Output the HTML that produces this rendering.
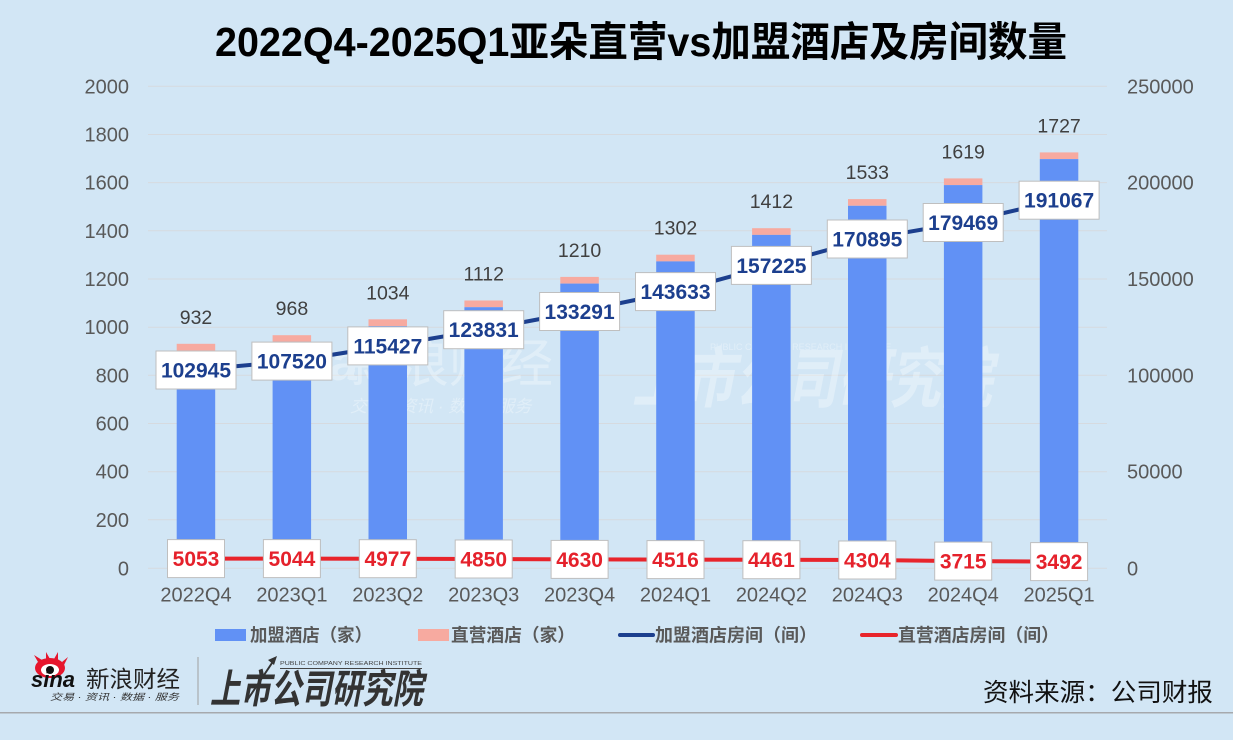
<!DOCTYPE html>
<html><head><meta charset="utf-8"><style>
html,body{margin:0;padding:0;background:#D2E6F5;}
svg{display:block;}
text{font-family:"Liberation Sans","Noto Sans CJK SC",sans-serif;}
</style></head><body>
<svg width="1233" height="740" viewBox="0 0 1233 740" xmlns="http://www.w3.org/2000/svg">
<rect x="0" y="0" width="1233" height="740" fill="#D2E6F5"/>
<!-- title -->
<text x="215" y="56" font-size="41" font-weight="bold" fill="#000" textLength="852" lengthAdjust="spacingAndGlyphs">2022Q4-2025Q1亚朵直营vs加盟酒店及房间数量</text>
<!-- grid -->
<g stroke="#D6DADF" stroke-width="1">
<line x1="148" x2="1107" y1="86.3" y2="86.3"/>
<line x1="148" x2="1107" y1="134.5" y2="134.5"/>
<line x1="148" x2="1107" y1="182.6" y2="182.6"/>
<line x1="148" x2="1107" y1="230.8" y2="230.8"/>
<line x1="148" x2="1107" y1="279.0" y2="279.0"/>
<line x1="148" x2="1107" y1="327.2" y2="327.2"/>
<line x1="148" x2="1107" y1="375.3" y2="375.3"/>
<line x1="148" x2="1107" y1="423.5" y2="423.5"/>
<line x1="148" x2="1107" y1="471.7" y2="471.7"/>
<line x1="148" x2="1107" y1="519.8" y2="519.8"/>
<line x1="148" x2="1107" y1="568.3" y2="568.3"/>
</g>
<!-- left axis labels -->
<g font-size="20" fill="#595959" text-anchor="end">
<text x="129" y="93.3">2000</text>
<text x="129" y="141.5">1800</text>
<text x="129" y="189.6">1600</text>
<text x="129" y="237.8">1400</text>
<text x="129" y="286">1200</text>
<text x="129" y="334.2">1000</text>
<text x="129" y="382.3">800</text>
<text x="129" y="430.5">600</text>
<text x="129" y="478.7">400</text>
<text x="129" y="526.8">200</text>
<text x="129" y="575.3">0</text>
</g>
<!-- right axis labels -->
<g font-size="20" fill="#595959" text-anchor="start">
<text x="1127" y="93.3">250000</text>
<text x="1127" y="189.6">200000</text>
<text x="1127" y="286">150000</text>
<text x="1127" y="382.3">100000</text>
<text x="1127" y="478.7">50000</text>
<text x="1127" y="575.3">0</text>
</g>
<!-- watermark -->
<g fill="#FFFFFF" opacity="0.32">
<text x="255" y="380" font-size="52" font-weight="bold" font-style="italic">sina</text>
<text x="345" y="382" font-size="52">新浪财经</text>
<text x="350" y="412" font-size="17" font-style="italic">交易 · 资讯 · 数据 · 服务</text>
<text x="632" y="402" font-size="66" font-weight="bold" font-style="italic" textLength="360" lengthAdjust="spacingAndGlyphs">上市公司研究院</text>
<text x="710" y="350" font-size="9">PUBLIC COMPANY RESEARCH INSTITUTE</text>
</g>
<!-- bars -->
<g>
<rect x="176.7" y="343.8" width="38.5" height="6.7" fill="#F7AAA0"/><rect x="176.7" y="350.5" width="38.5" height="217.8" fill="#6191F5"/>
<rect x="272.6" y="335.2" width="38.5" height="6.7" fill="#F7AAA0"/><rect x="272.6" y="341.9" width="38.5" height="226.4" fill="#6191F5"/>
<rect x="368.5" y="319.3" width="38.5" height="6.7" fill="#F7AAA0"/><rect x="368.5" y="326.0" width="38.5" height="242.3" fill="#6191F5"/>
<rect x="464.4" y="300.5" width="38.5" height="6.7" fill="#F7AAA0"/><rect x="464.4" y="307.2" width="38.5" height="261.1" fill="#6191F5"/>
<rect x="560.3" y="276.9" width="38.5" height="6.7" fill="#F7AAA0"/><rect x="560.3" y="283.6" width="38.5" height="284.7" fill="#6191F5"/>
<rect x="656.2" y="254.7" width="38.5" height="6.7" fill="#F7AAA0"/><rect x="656.2" y="261.4" width="38.5" height="306.9" fill="#6191F5"/>
<rect x="752.1" y="228.2" width="38.5" height="6.7" fill="#F7AAA0"/><rect x="752.1" y="234.9" width="38.5" height="333.4" fill="#6191F5"/>
<rect x="848.0" y="199.1" width="38.5" height="6.7" fill="#F7AAA0"/><rect x="848.0" y="205.8" width="38.5" height="362.5" fill="#6191F5"/>
<rect x="943.9" y="178.4" width="38.5" height="6.7" fill="#F7AAA0"/><rect x="943.9" y="185.1" width="38.5" height="383.2" fill="#6191F5"/>
<rect x="1039.8" y="152.4" width="38.5" height="6.7" fill="#F7AAA0"/><rect x="1039.8" y="159.1" width="38.5" height="409.2" fill="#6191F5"/>
</g>
<!-- total labels -->
<g font-size="19.5" fill="#404040" text-anchor="middle">
<text x="196" y="323.8">932</text>
<text x="291.9" y="315.2">968</text>
<text x="387.8" y="299.3">1034</text>
<text x="483.7" y="280.5">1112</text>
<text x="579.6" y="256.9">1210</text>
<text x="675.5" y="234.7">1302</text>
<text x="771.4" y="208.2">1412</text>
<text x="867.3" y="179.1">1533</text>
<text x="963.2" y="158.4">1619</text>
<text x="1059.1" y="132.4">1727</text>
</g>
<!-- lines -->
<polyline fill="none" stroke="#1C3F8E" stroke-width="4" stroke-linejoin="round" points="196,369.9 291.9,361.1 387.8,345.9 483.7,329.7 579.6,311.5 675.5,291.6 771.4,265.4 867.3,239.0 963.2,222.5 1059.1,200.2"/>
<polyline fill="none" stroke="#E8242B" stroke-width="4" stroke-linejoin="round" points="196,558.6 291.9,558.6 387.8,558.7 483.7,559.0 579.6,559.4 675.5,559.6 771.4,559.7 867.3,560.0 963.2,561.1 1059.1,561.6"/>
<!-- blue label boxes -->
<g fill="#FFFFFF" stroke="#BFBFBF" stroke-width="1">
<rect x="156" y="351" width="80" height="38"/>
<rect x="251.9" y="342.1" width="80" height="38"/>
<rect x="347.8" y="326.9" width="80" height="38"/>
<rect x="443.7" y="310.7" width="80" height="38"/>
<rect x="539.6" y="292.5" width="80" height="38"/>
<rect x="635.5" y="272.6" width="80" height="38"/>
<rect x="731.4" y="246.4" width="80" height="38"/>
<rect x="827.3" y="220.0" width="80" height="38"/>
<rect x="923.2" y="203.5" width="80" height="38"/>
<rect x="1019.1" y="181.2" width="80" height="38"/>
</g>
<g font-size="21" font-weight="bold" fill="#1C3F8E" text-anchor="middle">
<text x="196" y="377.5">102945</text>
<text x="291.9" y="368.6">107520</text>
<text x="387.8" y="353.4">115427</text>
<text x="483.7" y="337.2">123831</text>
<text x="579.6" y="319">133291</text>
<text x="675.5" y="299.1">143633</text>
<text x="771.4" y="272.9">157225</text>
<text x="867.3" y="246.5">170895</text>
<text x="963.2" y="230">179469</text>
<text x="1059.1" y="207.7">191067</text>
</g>
<!-- red label boxes -->
<g fill="#FFFFFF" stroke="#BFBFBF" stroke-width="1">
<rect x="167.5" y="539.6" width="57" height="38"/>
<rect x="263.4" y="539.6" width="57" height="38"/>
<rect x="359.3" y="539.7" width="57" height="38"/>
<rect x="455.2" y="540" width="57" height="38"/>
<rect x="551.1" y="540.4" width="57" height="38"/>
<rect x="647" y="540.6" width="57" height="38"/>
<rect x="742.9" y="540.7" width="57" height="38"/>
<rect x="838.8" y="541" width="57" height="38"/>
<rect x="934.7" y="542.1" width="57" height="38"/>
<rect x="1030.6" y="542.6" width="57" height="38"/>
</g>
<g font-size="21" font-weight="bold" fill="#E5212B" text-anchor="middle">
<text x="196" y="566.1">5053</text>
<text x="291.9" y="566.1">5044</text>
<text x="387.8" y="566.2">4977</text>
<text x="483.7" y="566.5">4850</text>
<text x="579.6" y="566.9">4630</text>
<text x="675.5" y="567.1">4516</text>
<text x="771.4" y="567.2">4461</text>
<text x="867.3" y="567.5">4304</text>
<text x="963.2" y="568.6">3715</text>
<text x="1059.1" y="569.1">3492</text>
</g>
<!-- category labels -->
<g font-size="20" fill="#595959" text-anchor="middle">
<text x="196" y="601.7">2022Q4</text>
<text x="291.9" y="601.7">2023Q1</text>
<text x="387.8" y="601.7">2023Q2</text>
<text x="483.7" y="601.7">2023Q3</text>
<text x="579.6" y="601.7">2023Q4</text>
<text x="675.5" y="601.7">2024Q1</text>
<text x="771.4" y="601.7">2024Q2</text>
<text x="867.3" y="601.7">2024Q3</text>
<text x="963.2" y="601.7">2024Q4</text>
<text x="1059.1" y="601.7">2025Q1</text>
</g>
<!-- legend -->
<rect x="215" y="629" width="31" height="12" fill="#6191F5"/>
<rect x="418" y="629" width="31" height="12" fill="#F7AAA0"/>
<line x1="620" x2="653" y1="635" y2="635" stroke="#1C3F8E" stroke-width="4" stroke-linecap="round"/>
<line x1="862" x2="896" y1="635" y2="635" stroke="#E8242B" stroke-width="4" stroke-linecap="round"/>
<g font-size="18" font-weight="bold" fill="#595959">
<text x="250" y="641.5" textLength="122" lengthAdjust="spacingAndGlyphs">加盟酒店（家）</text>
<text x="451" y="641.5" textLength="124" lengthAdjust="spacingAndGlyphs">直营酒店（家）</text>
<text x="655" y="641.5" textLength="162" lengthAdjust="spacingAndGlyphs">加盟酒店房间（间）</text>
<text x="898" y="641.5" textLength="161" lengthAdjust="spacingAndGlyphs">直营酒店房间（间）</text>
</g>
<!-- footer: sina logo -->
<g>
<ellipse cx="50" cy="668" rx="15" ry="10" fill="#E6162D"/>
<path d="M38 662 L34 655 L42 660 Z M46 659 L46 652 L50 659 Z M54 659 L58 652 L58 660 Z M62 662 L68 657 L64 665 Z" fill="#E6162D"/>
<ellipse cx="50" cy="670" rx="9" ry="6" fill="#FFFFFF"/>
<circle cx="50" cy="670" r="4" fill="#111"/>
<text x="31" y="687" font-size="22" font-weight="bold" font-style="italic" fill="#111">sina</text>
<text x="86" y="687" font-size="23" fill="#222" textLength="94" lengthAdjust="spacingAndGlyphs">新浪财经</text>
<text x="50" y="700" font-size="9" font-style="italic" fill="#333" textLength="129" lengthAdjust="spacingAndGlyphs">交易 · 资讯 · 数据 · 服务</text>
</g>
<line x1="198" x2="198" y1="657" y2="705" stroke="#A0A0A0" stroke-width="1"/>
<!-- footer: 上市公司研究院 -->
<g>
<text x="210" y="703" font-size="40" font-weight="bold" font-style="italic" fill="#333" textLength="213" lengthAdjust="spacingAndGlyphs">上市公司研究院</text>
<line x1="246" y1="702" x2="274" y2="660" stroke="#333" stroke-width="2"/>
<path d="M277 656 L268 660 L274 665 Z" fill="#333"/>
<text x="280" y="665" font-size="5.6" fill="#444" textLength="142" lengthAdjust="spacingAndGlyphs">PUBLIC COMPANY RESEARCH INSTITUTE</text>
<line x1="280" x2="422" y1="668.5" y2="668.5" stroke="#444" stroke-width="1"/>
</g>
<text x="983" y="701" font-size="25" fill="#111" textLength="230" lengthAdjust="spacingAndGlyphs">资料来源：公司财报</text>
<line x1="0" x2="1233" y1="712.7" y2="712.7" stroke="#A6A9AD" stroke-width="1.5"/>
</svg>
</body></html>
